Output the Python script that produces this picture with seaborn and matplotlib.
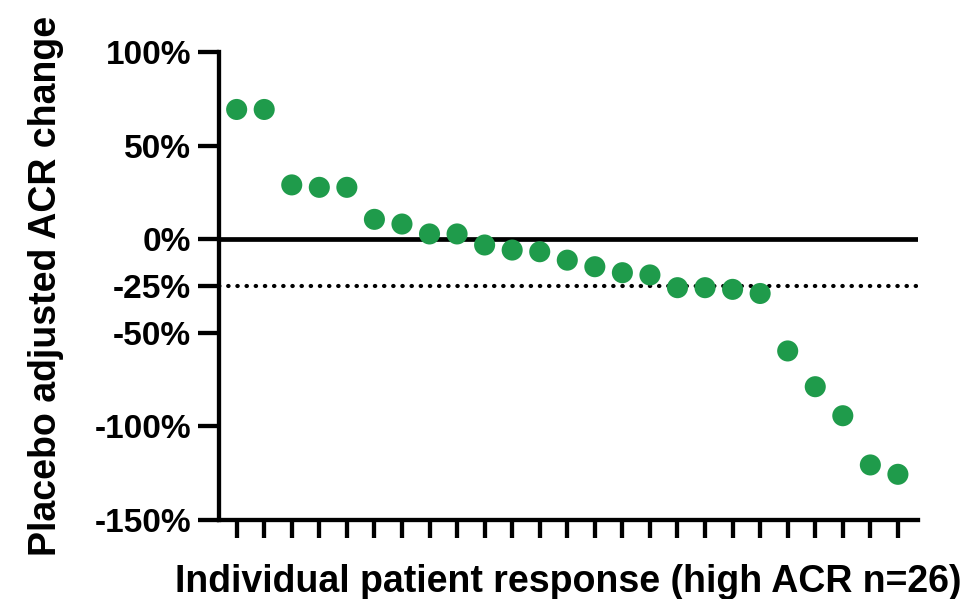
import numpy as np
import pandas as pd
import seaborn as sns
import matplotlib.pyplot as plt

# Values (one point per patient, sorted)
patients = list(range(1, 26))
acr_change = [69.3, 69.3, 29.0, 27.7, 27.7, 10.6, 8.1, 2.8, 2.8, -3.1,
              -5.8, -6.7, -11.2, -14.7, -17.9, -19.1, -25.9, -25.9, -26.8, -29.0,
              -59.7, -78.8, -94.3, -120.6, -125.6]
y_ticks = [100, 50, 0, -25, -50, -100, -150]
y_tick_labels = ['100%', '50%', '0%', '-25%', '-50%', '-100%', '-150%']
threshold = -25

df = pd.DataFrame({'patient': patients, 'change': acr_change})

sns.set_style('ticks')
plt.rcParams['font.family'] = ['Liberation Sans', 'DejaVu Sans']
plt.rcParams['font.weight'] = 'bold'
plt.rcParams['text.color'] = 'black'
plt.rcParams['axes.labelcolor'] = 'black'
plt.rcParams['xtick.color'] = 'black'
plt.rcParams['ytick.color'] = 'black'

fig = plt.figure(figsize=(9.64, 5.99), dpi=100)
ax = fig.add_axes([0.2272, 0.1319, 0.7251, 0.7813])

# reference lines
ax.axhline(0, color='black', lw=3.4, zorder=1)
ax.axhline(threshold, color='black', lw=3.0, linestyle=(0, (0.1, 2.1)),
           dash_capstyle='round', zorder=1)

sns.scatterplot(x='patient', y='change', data=df, color='#1f9b4b', s=230,
                edgecolor='none', ax=ax, zorder=3)

ax.set_xlim(0.36, 25.73)
ax.set_ylim(-150, 100)
ax.set_xticks(patients)
ax.set_xticklabels([])
ax.set_yticks(y_ticks)
ax.set_yticklabels(y_tick_labels, fontsize=24, fontweight='bold')

ax.tick_params(axis='y', length=15, width=3.1, pad=5)
ax.tick_params(axis='x', length=13, width=3.1)

for side in ['top', 'right']:
    ax.spines[side].set_visible(False)
for side in ['left', 'bottom']:
    ax.spines[side].set_linewidth(3.1)
    ax.spines[side].set_color('black')
    ax.spines[side].set_capstyle('projecting')

ax.set_xlabel('Individual patient response (high ACR n=26)', fontsize=27,
              fontweight='bold')
ax.set_ylabel('Placebo adjusted ACR change', fontsize=27, fontweight='bold')
ax.xaxis.set_label_coords(0.5, -0.095)
ax.yaxis.set_label_coords(-0.222, 0.5)

plt.savefig('out.png', dpi=100)
